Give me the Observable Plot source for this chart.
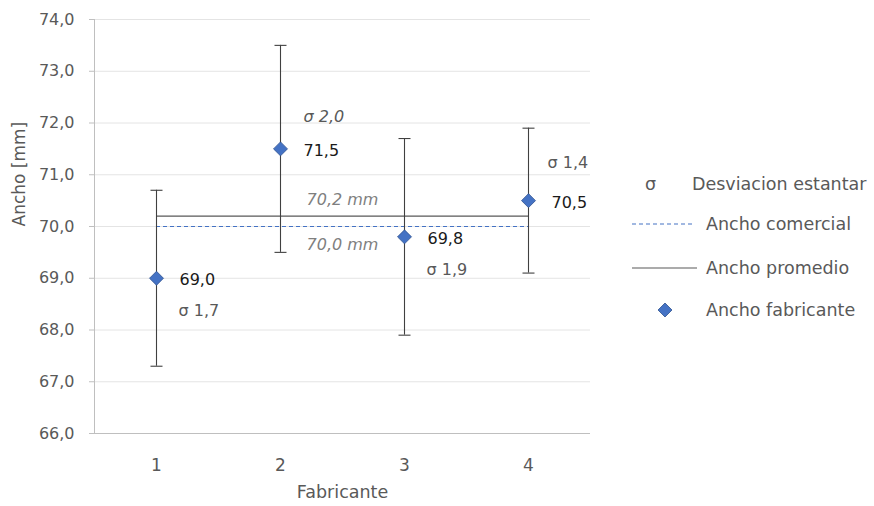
<!DOCTYPE html>
<html>
<head>
<meta charset="utf-8">
<script src="https://cdn.jsdelivr.net/npm/d3@7"></script>
<script src="https://cdn.jsdelivr.net/npm/@observablehq/plot@0.6"></script>
<style>
  html, body { margin: 0; padding: 0; background: #fff; }
  #wrap { position: relative; width: 874px; height: 506px; font-family: "DejaVu Sans", sans-serif; }
  #legend { position: absolute; left: 0; top: 0; width: 874px; height: 506px; pointer-events: none; }
  .row { position: absolute; display: flex; align-items: center; height: 24px; color: #595959; font-size: 17.5px; white-space: nowrap; }
</style>
</head>
<body>
<div id="wrap"></div>
<script>
// Ancho medido por fabricante (mm)
const fabricantes = [1, 2, 3, 4];
const anchoFabricante = [69.0, 71.5, 69.8, 70.5];
const desviacion = [1.7, 2.0, 1.9, 1.4];
const anchoComercial = 70.0;
const anchoPromedio = 70.2;
const yTicks = [66, 67, 68, 69, 70, 71, 72, 73, 74];

const fmt = v => d3.format(".1f")(v).replace(".", ",");

const rows = fabricantes.map((f, i) => ({
  f,
  m: anchoFabricante[i],
  s: desviacion[i],
  lo: anchoFabricante[i] - desviacion[i],
  hi: anchoFabricante[i] + desviacion[i]
}));

// sigma labels go above the point for manufacturers 2 and 4, below for 1 and 3
const sigmaAbove = new Set([2, 4]);
const refLines = [
  {a: fabricantes[0], b: fabricantes[fabricantes.length - 1], v: anchoPromedio},
  {a: fabricantes[0], b: fabricantes[fabricantes.length - 1], v: anchoComercial}
];

// horizontal cap for the error bars
const cap = { draw(ctx) { ctx.moveTo(-6, 0); ctx.lineTo(6, 0); } };

const chart = Plot.plot({
  width: 874,
  height: 506,
  marginLeft: 94,
  marginRight: 284,
  marginTop: 19,
  marginBottom: 73,
  style: { fontFamily: "DejaVu Sans, sans-serif", color: "#595959", background: "#fff" },
  x: { type: "point", domain: fabricantes, padding: 0.5 },
  y: { domain: [66, 74] },
  marks: [
    Plot.gridY(yTicks, { stroke: "#e4e4e4", strokeOpacity: 1 }),
    Plot.ruleY([66], { stroke: "#bfbfbf" }),
    Plot.frame({ anchor: "left", stroke: "#bfbfbf" }),
    Plot.axisY({ ticks: yTicks, tickFormat: fmt, tickSize: 5, tickPadding: 15, fontSize: 16, stroke: "#bfbfbf", label: null }),
    Plot.axisX({ tickSize: 0, tickPadding: 25, fontSize: 17, label: null }),
    Plot.text(["Fabricante"], { frameAnchor: "bottom", dy: 64, fontSize: 17.5, fill: "#595959" }),
    Plot.text(["Ancho [mm]"], { frameAnchor: "left", dx: -75, rotate: -90, fontSize: 17, fill: "#595959" }),

    // reference lines
    Plot.ruleY([refLines[1]], { x1: "a", x2: "b", y: "v", stroke: "#4472c4", strokeDasharray: "4,3", strokeWidth: 1.2 }),
    Plot.ruleY([refLines[0]], { x1: "a", x2: "b", y: "v", stroke: "#595959", strokeWidth: 1.2 }),
    Plot.text([{ f: fabricantes[1], v: anchoPromedio }], { x: "f", y: "v", text: d => fmt(d.v) + " mm", dx: 62, dy: -16, fontSize: 16, fontStyle: "italic", fill: "#7f7f7f" }),
    Plot.text([{ f: fabricantes[1], v: anchoComercial }], { x: "f", y: "v", text: d => fmt(d.v) + " mm", dx: 62, dy: 18, fontSize: 16, fontStyle: "italic", fill: "#7f7f7f" }),

    // error bars (± desviación estándar)
    Plot.ruleX(rows, { x: "f", y1: "lo", y2: "hi", stroke: "#404040", strokeWidth: 1.1 }),
    Plot.dot(rows, { x: "f", y: "lo", symbol: cap, stroke: "#404040", fill: "none", strokeWidth: 1.1 }),
    Plot.dot(rows, { x: "f", y: "hi", symbol: cap, stroke: "#404040", fill: "none", strokeWidth: 1.1 }),

    // ancho por fabricante
    Plot.dot(rows, { x: "f", y: "m", symbol: "diamond2", r: 6.3, fill: "#4472c4", stroke: "#2f528f", strokeWidth: 0.8 }),
    Plot.text(rows, { x: "f", y: "m", text: d => fmt(d.m), dx: 23, dy: 2, textAnchor: "start", fontSize: 16, fill: "#1a1a1a" }),

    // sigma labels
    Plot.text(rows.filter(d => !sigmaAbove.has(d.f)), { x: "f", y: "m", text: d => "σ " + fmt(d.s), dx: 22, dy: 33, textAnchor: "start", fontSize: 16, fill: "#595959" }),
    Plot.text(rows.filter(d => sigmaAbove.has(d.f) && d.f === 2), { x: "f", y: "m", text: d => "σ " + fmt(d.s), dx: 23, dy: -32, textAnchor: "start", fontSize: 16, fontStyle: "italic", fill: "#595959" }),
    Plot.text(rows.filter(d => sigmaAbove.has(d.f) && d.f !== 2), { x: "f", y: "m", text: d => "σ " + fmt(d.s), dx: 19, dy: -38, textAnchor: "start", fontSize: 16, fill: "#595959" })
  ]
});

const wrap = document.getElementById("wrap");
wrap.appendChild(chart);

// legend
const legend = document.createElement("div");
legend.id = "legend";
legend.innerHTML = `
  <div class="row" style="left:645px; top:172px;"><span style="display:inline-block;width:47px;">σ</span><span>Desviacion estantar</span></div>
  <div class="row" style="left:632px; top:212px;"><svg width="74" height="24"><line x1="0" y1="12" x2="61" y2="12" stroke="#4472c4" stroke-width="1.2" stroke-dasharray="4,3"/></svg><span>Ancho comercial</span></div>
  <div class="row" style="left:632px; top:256px;"><svg width="74" height="24"><line x1="0" y1="12" x2="65" y2="12" stroke="#595959" stroke-width="1.2"/></svg><span>Ancho promedio</span></div>
  <div class="row" style="left:632px; top:298px;"><svg width="74" height="24"><path d="M33,5 L40,12 L33,19 L26,12 Z" fill="#4472c4" stroke="#2f528f" stroke-width="0.8"/></svg><span>Ancho fabricante</span></div>
`;
wrap.appendChild(legend);
</script>
</body>
</html>
